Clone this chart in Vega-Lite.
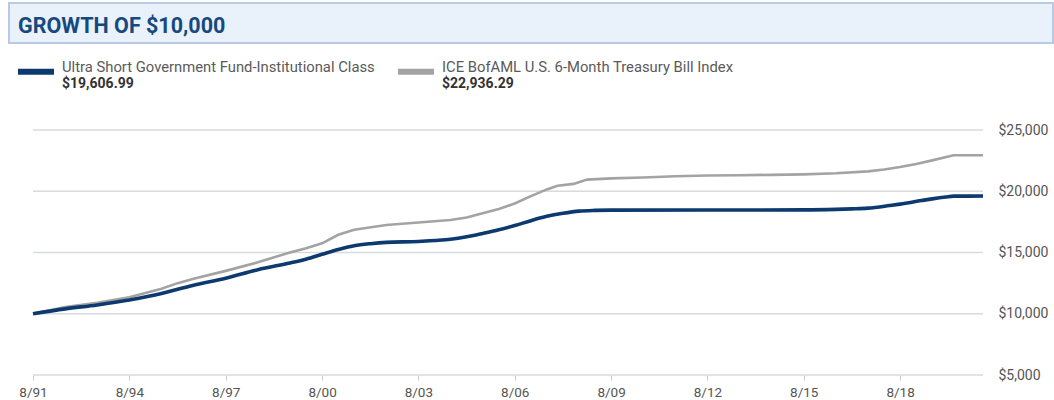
{
  "$schema": "https://vega.github.io/schema/vega-lite/v6.json",
  "padding": {"left": 8, "top": 2, "right": 0, "bottom": 0},
  "background": "white",
  "bounds": "flush",
  "spacing": 10,
  "config": {"font": "Roboto", "view": {"stroke": null}},
  "datasets": {
    "header": [{"title": "GROWTH OF $10,000"}],
    "legend": [
      {"series": "Ultra Short Government Fund-Institutional Class", "final": 19606.99},
      {"series": "ICE BofAML U.S. 6-Month Treasury Bill Index", "final": 22936.29}
    ],
    "grid": [{"value": 5000}, {"value": 10000}, {"value": 15000}, {"value": 20000}, {"value": 25000}],
    "growth": [
      {"date": "1991-08-01", "series": "fund", "value": 10000},
      {"date": "1992-08-01", "series": "fund", "value": 10400},
      {"date": "1993-08-01", "series": "fund", "value": 10720},
      {"date": "1994-08-01", "series": "fund", "value": 11120},
      {"date": "1995-08-01", "series": "fund", "value": 11650},
      {"date": "1996-02-01", "series": "fund", "value": 12000},
      {"date": "1996-08-01", "series": "fund", "value": 12330},
      {"date": "1997-08-01", "series": "fund", "value": 12900},
      {"date": "1998-08-01", "series": "fund", "value": 13600},
      {"date": "1999-08-01", "series": "fund", "value": 14150},
      {"date": "2000-02-01", "series": "fund", "value": 14450},
      {"date": "2000-08-01", "series": "fund", "value": 14850},
      {"date": "2001-02-01", "series": "fund", "value": 15250},
      {"date": "2001-08-01", "series": "fund", "value": 15550},
      {"date": "2002-02-01", "series": "fund", "value": 15720},
      {"date": "2002-08-01", "series": "fund", "value": 15830},
      {"date": "2003-08-01", "series": "fund", "value": 15900},
      {"date": "2004-02-01", "series": "fund", "value": 15980},
      {"date": "2004-08-01", "series": "fund", "value": 16080},
      {"date": "2005-02-01", "series": "fund", "value": 16280},
      {"date": "2005-08-01", "series": "fund", "value": 16550},
      {"date": "2006-02-01", "series": "fund", "value": 16850},
      {"date": "2006-08-01", "series": "fund", "value": 17200},
      {"date": "2007-02-01", "series": "fund", "value": 17600},
      {"date": "2007-08-01", "series": "fund", "value": 17950},
      {"date": "2008-02-01", "series": "fund", "value": 18200},
      {"date": "2008-08-01", "series": "fund", "value": 18380},
      {"date": "2009-02-01", "series": "fund", "value": 18440},
      {"date": "2009-08-01", "series": "fund", "value": 18460},
      {"date": "2012-08-01", "series": "fund", "value": 18470},
      {"date": "2015-08-01", "series": "fund", "value": 18480},
      {"date": "2016-08-01", "series": "fund", "value": 18520},
      {"date": "2017-02-01", "series": "fund", "value": 18560},
      {"date": "2017-08-01", "series": "fund", "value": 18620},
      {"date": "2018-04-01", "series": "fund", "value": 18830},
      {"date": "2018-08-01", "series": "fund", "value": 18950},
      {"date": "2019-04-01", "series": "fund", "value": 19240},
      {"date": "2019-08-01", "series": "fund", "value": 19380},
      {"date": "2020-01-01", "series": "fund", "value": 19530},
      {"date": "2020-04-01", "series": "fund", "value": 19600},
      {"date": "2021-03-01", "series": "fund", "value": 19606.99},
      {"date": "1991-08-01", "series": "index", "value": 10000},
      {"date": "1992-08-01", "series": "index", "value": 10550},
      {"date": "1993-08-01", "series": "index", "value": 10900},
      {"date": "1994-08-01", "series": "index", "value": 11350},
      {"date": "1995-08-01", "series": "index", "value": 12050},
      {"date": "1996-02-01", "series": "index", "value": 12500},
      {"date": "1996-08-01", "series": "index", "value": 12850},
      {"date": "1997-08-01", "series": "index", "value": 13500},
      {"date": "1998-08-01", "series": "index", "value": 14200},
      {"date": "1999-08-01", "series": "index", "value": 15000},
      {"date": "2000-02-01", "series": "index", "value": 15350},
      {"date": "2000-08-01", "series": "index", "value": 15750},
      {"date": "2001-02-01", "series": "index", "value": 16450},
      {"date": "2001-08-01", "series": "index", "value": 16850},
      {"date": "2002-08-01", "series": "index", "value": 17250},
      {"date": "2003-08-01", "series": "index", "value": 17450},
      {"date": "2004-08-01", "series": "index", "value": 17650},
      {"date": "2005-02-01", "series": "index", "value": 17850},
      {"date": "2005-08-01", "series": "index", "value": 18200},
      {"date": "2006-02-01", "series": "index", "value": 18560},
      {"date": "2006-08-01", "series": "index", "value": 19000},
      {"date": "2007-02-01", "series": "index", "value": 19600},
      {"date": "2007-08-01", "series": "index", "value": 20150},
      {"date": "2007-12-01", "series": "index", "value": 20450},
      {"date": "2008-06-01", "series": "index", "value": 20600},
      {"date": "2008-11-01", "series": "index", "value": 20950},
      {"date": "2009-08-01", "series": "index", "value": 21050},
      {"date": "2010-08-01", "series": "index", "value": 21120},
      {"date": "2011-08-01", "series": "index", "value": 21220},
      {"date": "2012-08-01", "series": "index", "value": 21280},
      {"date": "2013-08-01", "series": "index", "value": 21310},
      {"date": "2014-08-01", "series": "index", "value": 21340},
      {"date": "2015-08-01", "series": "index", "value": 21380},
      {"date": "2016-08-01", "series": "index", "value": 21470},
      {"date": "2017-08-01", "series": "index", "value": 21620},
      {"date": "2018-02-01", "series": "index", "value": 21780},
      {"date": "2018-08-01", "series": "index", "value": 21980},
      {"date": "2019-02-01", "series": "index", "value": 22230},
      {"date": "2019-08-01", "series": "index", "value": 22520},
      {"date": "2020-02-01", "series": "index", "value": 22840},
      {"date": "2020-04-01", "series": "index", "value": 22936.29},
      {"date": "2021-03-01", "series": "index", "value": 22936.29}
    ]
  },
  "vconcat": [
    {
      "width": 1044,
      "height": 40,
      "view": {"fill": "#e9f1fa", "stroke": "#b9cbe4", "strokeWidth": 2},
      "data": {"name": "header"},
      "mark": {"type": "text", "align": "left", "baseline": "middle", "xOffset": 9, "yOffset": 4, "fontSize": 21.5, "fontWeight": "bold", "font": "Roboto", "color": "#17497f"},
      "encoding": {
        "x": {"field": "title", "type": "nominal", "bandPosition": 0, "scale": {"type": "band", "paddingInner": 0, "paddingOuter": 0}, "axis": null},
        "text": {"field": "title"}
      }
    },
    {
      "width": 760,
      "height": 67,
      "data": {"name": "legend"},
      "encoding": {
        "x": {"field": "series", "type": "nominal", "bandPosition": 0, "sort": null, "scale": {"type": "band", "paddingInner": 0, "paddingOuter": 0}, "axis": null}
      },
      "layer": [
        {
          "mark": {"type": "point", "shape": "M-1,-0.17L1,-0.17L1,0.17L-1,0.17Z", "size": 1296, "filled": true, "opacity": 1, "xOffset": 27, "yOffset": -14.8},
          "encoding": {
            "color": {"field": "series", "type": "nominal", "scale": {"domain": ["Ultra Short Government Fund-Institutional Class", "ICE BofAML U.S. 6-Month Treasury Bill Index"], "range": ["#0c3a6f", "#a3a3a3"]}, "legend": null}
          }
        },
        {
          "mark": {"type": "text", "align": "left", "baseline": "alphabetic", "xOffset": 53, "yOffset": -14.5, "fontSize": 14.8, "font": "Roboto", "color": "#5a5a5a"},
          "encoding": {"text": {"field": "series"}}
        },
        {
          "mark": {"type": "text", "align": "left", "baseline": "alphabetic", "xOffset": 53, "yOffset": 1, "fontSize": 14, "fontWeight": "bold", "font": "Roboto", "color": "#333333"},
          "encoding": {"text": {"field": "final", "type": "quantitative", "format": "$,.2f"}}
        }
      ]
    },
    {
      "width": 974,
      "height": 245,
      "layer": [
        {
          "data": {"name": "grid"},
          "mark": {"type": "rule", "color": "#d8dadd", "strokeWidth": 1.5},
          "encoding": {
            "x": {"datum": {"year": 1991, "month": 8, "date": 1, "utc": true}, "type": "temporal"},
            "x2": {"datum": {"year": 2021, "month": 3, "date": 1, "utc": true}},
            "y": {"field": "value", "type": "quantitative"}
          }
        },
        {
          "data": {"name": "growth"},
          "transform": [{"filter": "datum.series === 'index'"}],
          "mark": {"type": "line", "color": "#a3a3a3", "strokeWidth": 2.6, "interpolate": "linear"},
          "encoding": {
            "x": {"field": "date", "type": "temporal"},
            "y": {"field": "value", "type": "quantitative"}
          }
        },
        {
          "data": {"name": "growth"},
          "transform": [{"filter": "datum.series === 'fund'"}],
          "mark": {"type": "line", "color": "#0c3a6f", "strokeWidth": 3.6, "interpolate": "monotone"},
          "encoding": {
            "x": {"field": "date", "type": "temporal"},
            "y": {"field": "value", "type": "quantitative"}
          }
        }
      ],
      "resolve": {"scale": {"x": "shared", "y": "shared"}},
      "encoding": {
        "x": {
          "type": "temporal",
          "scale": {"type": "utc", "nice": false, "domain": [{"year": 1990, "month": 11, "date": 1, "utc": true}, {"year": 2021, "month": 3, "date": 1, "utc": true}]},
          "axis": {
            "title": null, "grid": false, "domain": false, "ticks": true, "tickColor": "#cccccc", "tickSize": 5, "tickWidth": 1,
            "values": [
              {"year": 1991, "month": 8, "date": 1, "utc": true}, {"year": 1994, "month": 8, "date": 1, "utc": true},
              {"year": 1997, "month": 8, "date": 1, "utc": true}, {"year": 2000, "month": 8, "date": 1, "utc": true},
              {"year": 2003, "month": 8, "date": 1, "utc": true}, {"year": 2006, "month": 8, "date": 1, "utc": true},
              {"year": 2009, "month": 8, "date": 1, "utc": true}, {"year": 2012, "month": 8, "date": 1, "utc": true},
              {"year": 2015, "month": 8, "date": 1, "utc": true}, {"year": 2018, "month": 8, "date": 1, "utc": true}
            ],
            "labelExpr": "utcFormat(datum.value, '%-m/%y')",
            "labelFont": "Roboto", "labelFontSize": 13.5, "labelColor": "#555555", "labelPadding": 5, "labelFlush": false, "labelOverlap": false
          }
        },
        "y": {
          "type": "quantitative",
          "scale": {"domain": [5000, 25000], "nice": false, "zero": false},
          "axis": {
            "orient": "right", "title": null, "grid": false, "domain": false, "ticks": false,
            "values": [5000, 10000, 15000, 20000, 25000], "format": "$,.0f",
            "labelFont": "Roboto", "labelFontSize": 14, "labelColor": "#555555", "labelPadding": 15
          }
        }
      }
    }
  ]
}
